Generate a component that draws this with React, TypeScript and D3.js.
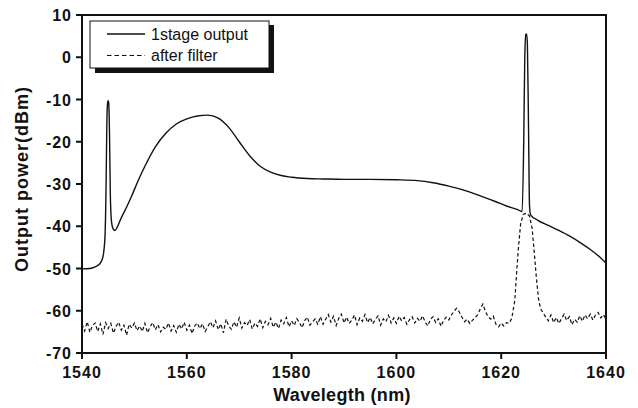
import React from "react";
import * as d3 from "d3";

const xTicks = [1540, 1560, 1580, 1600, 1620, 1640];
const yTicks = [10, 0, -10, -20, -30, -40, -50, -60, -70];

const stageWl = [1540, 1541.5, 1542.5, 1543.3, 1543.8, 1544.1, 1544.4, 1544.6, 1544.75, 1544.9, 1545.0, 1545.1, 1545.25, 1545.4, 1545.6, 1545.9, 1546.3, 1546.8, 1547.5, 1548.5, 1549.5, 1550.5, 1552, 1554, 1556, 1558, 1560, 1562, 1564, 1566, 1568, 1570, 1572, 1574, 1576, 1578, 1580, 1583, 1586, 1590, 1595, 1600, 1604, 1607, 1610, 1613, 1616, 1619, 1621, 1623, 1624, 1624.3, 1624.5, 1624.7, 1624.85, 1625.0, 1625.2, 1625.4, 1625.6, 1627, 1629, 1631, 1633, 1635, 1637, 1639, 1640];
const stagePw = [-50.1, -50.0, -49.6, -49.0, -48.0, -46.5, -42, -30, -15, -10.6, -10.3, -10.8, -18, -32, -38.5, -40.5, -41.0, -40, -38, -35.5, -32.8, -29.8, -25.8, -21.2, -18, -15.8, -14.6, -13.9, -13.7, -14.4, -16.6, -20, -23.3, -25.8, -27.2, -28.0, -28.4, -28.7, -28.8, -28.9, -28.9, -29.0, -29.2, -29.7, -30.5, -31.5, -32.8, -34.2, -35.2, -36.0, -36.5, -20, 0, 5.4, 5.5, 3, -15, -35, -37.3, -38.6, -39.8, -41.0, -42.3, -43.8, -45.5, -47.5, -48.7];

// after filter: noise floor sampled every 0.5 nm from 1540 to 1622
const filterNoiseA = [
  -63.2, -64.8, -62.6, -65.1, -63.5, -62.9, -64.9, -63.1, -65.6, -62.8,
  -64.2, -63.0, -65.3, -63.7, -62.7, -64.6, -63.4, -65.8, -63.2, -64.1,
  -62.9, -64.7, -63.6, -64.9, -63.0, -65.2, -63.8, -62.8, -64.5, -63.3,
  -65.0, -63.9, -64.4, -62.9, -64.8, -63.5, -65.1, -63.2, -64.3, -62.7,
  -64.6, -63.4, -65.4, -63.6, -62.9, -64.2, -63.1, -64.9, -63.8, -62.6,
  -64.0,
  -62.4, -64.5, -63.1, -65.2, -62.0, -63.6, -64.4, -62.6, -63.9, -61.7,
  -64.1, -62.8, -63.5, -62.1, -64.3, -62.9, -63.7, -61.9, -64.0, -62.5,
  -63.3, -61.8, -63.9, -62.7, -64.2, -62.2, -63.1, -61.6, -63.8, -62.4,
  -63.5, -61.9, -62.8, -64.0, -62.3, -61.5, -63.4, -62.6, -61.9, -63.2,
  -61.4, -63.2, -62.0, -60.9, -62.7, -61.3, -63.5, -61.8, -60.8, -62.9,
  -61.5, -63.0, -62.2, -61.0, -63.3, -61.7, -62.5, -60.9, -62.8, -61.6,
  -63.1, -62.0, -61.2, -63.4, -61.9, -62.6, -61.1, -62.9, -61.7, -63.0,
  -61.3, -62.4, -61.6, -63.2, -62.1, -61.4, -62.9, -61.8, -62.5, -61.2,
  -62.7, -63.6, -62.0, -61.4, -62.8, -61.9, -63.7, -62.3, -61.5, -62.2,
  -61.0, -60.1, -59.4, -60.3, -61.5, -62.6, -62.0, -63.0, -62.3, -61.6,
  -61.0, -59.6, -58.4, -60.2, -61.4, -62.0, -61.3, -63.2, -63.8, -62.9,
  -63.6, -62.8, -63.0, -61.8,
];
const filterPeakWl = [1622.2, 1622.6, 1623.0, 1623.3, 1623.7, 1624.2, 1624.8, 1625.4, 1625.9, 1626.3, 1626.7, 1627.1, 1627.5, 1628.0];
const filterPeakPw = [-60.5, -57.5, -50, -45, -39.5, -37.2, -36.9, -37.6, -40.5, -46, -52, -57, -59.5, -60.5];
// noise floor every 0.5 nm from 1628.5 to 1640
const filterNoiseB = [
  -61.5, -62.4, -61.0, -62.8, -61.6, -63.0, -61.9, -60.8, -62.3, -61.4,
  -63.3, -62.0, -62.7, -61.2, -62.5, -61.0, -61.9, -60.8, -62.2, -61.0,
  -60.4, -61.7, -60.9, -62.0,
];

const W = 638, H = 408;
const m = { l: 82, r: 606, t: 15, b: 353 };

export default function App() {
  const x = d3.scaleLinear().domain([1540, 1640]).range([m.l, m.r]);
  const y = d3.scaleLinear().domain([-70, 10]).range([m.b, m.t]);

  const stage: [number, number][] = stageWl.map((w, i) => [w, stagePw[i]]);
  const filt: [number, number][] = [
    ...filterNoiseA.map((v, i) => [1540 + i * 0.5, v] as [number, number]),
    ...filterPeakWl.map((w, i) => [w, filterPeakPw[i]] as [number, number]),
    ...filterNoiseB.map((v, i) => [1628.5 + i * 0.5, v] as [number, number]),
  ];

  const smooth = d3.line<[number, number]>().x(d => x(d[0])).y(d => y(d[1])).curve(d3.curveMonotoneX);
  const straight = d3.line<[number, number]>().x(d => x(d[0])).y(d => y(d[1]));

  const font = "'Liberation Sans', Arial, sans-serif";
  const ink = "#111";

  return (
    <svg width={W} height={H} style={{ position: "absolute", left: 0, top: 0, background: "#fff" }} fontFamily={font}>
      <rect x={0} y={0} width={W} height={H} fill="#fff" />
      <defs>
        <clipPath id="plot">
          <rect x={m.l} y={m.t} width={m.r - m.l} height={m.b - m.t} />
        </clipPath>
      </defs>
      <g clipPath="url(#plot)">
        <path d={straight(filt) || ""} fill="none" stroke={ink} strokeWidth={1.2} strokeDasharray="3.5,2.5" />
        <path d={smooth(stage) || ""} fill="none" stroke={ink} strokeWidth={1.4} />
      </g>
      {/* frame */}
      <rect x={m.l} y={m.t} width={m.r - m.l} height={m.b - m.t} fill="none" stroke={ink} strokeWidth={2} />
      {/* x ticks */}
      {xTicks.map(t => (
        <g key={"x" + t}>
          <line x1={x(t)} x2={x(t)} y1={m.b} y2={m.b + 6} stroke={ink} strokeWidth={2} />
          <text x={x(t)} y={378} textAnchor="middle" fontSize={16} fontWeight="bold" letterSpacing={1} fill={ink}>{t}</text>
        </g>
      ))}
      {yTicks.map(t => (
        <g key={"y" + t}>
          <line x1={m.l - 6} x2={m.l} y1={y(t)} y2={y(t)} stroke={ink} strokeWidth={2} />
          <text x={72} y={y(t) + 6} textAnchor="end" fontSize={16} fontWeight="bold" letterSpacing={1} fill={ink}>{t}</text>
        </g>
      ))}
      <text x={342} y={401} textAnchor="middle" fontSize={18} fontWeight="bold" letterSpacing={0.3} fill={ink}>Wavelegth (nm)</text>
      <text transform="translate(28,179) rotate(-90)" textAnchor="middle" fontSize={18} fontWeight="bold" letterSpacing={1} fill={ink}>Output power(dBm)</text>
      {/* legend */}
      <rect x={95} y={25} width={179} height={48} fill={ink} />
      <rect x={90} y={21} width={179} height={47} fill="#fff" stroke={ink} strokeWidth={1} />
      <line x1={107} x2={145} y1={34} y2={34} stroke={ink} strokeWidth={1.4} />
      <text x={151} y={40} fontSize={16} fill={ink}>1stage output</text>
      <line x1={107} x2={145} y1={55.5} y2={55.5} stroke={ink} strokeWidth={1.2} strokeDasharray="4.5,3" />
      <text x={151} y={61} fontSize={16} fill={ink}>after filter</text>
    </svg>
  );
}
